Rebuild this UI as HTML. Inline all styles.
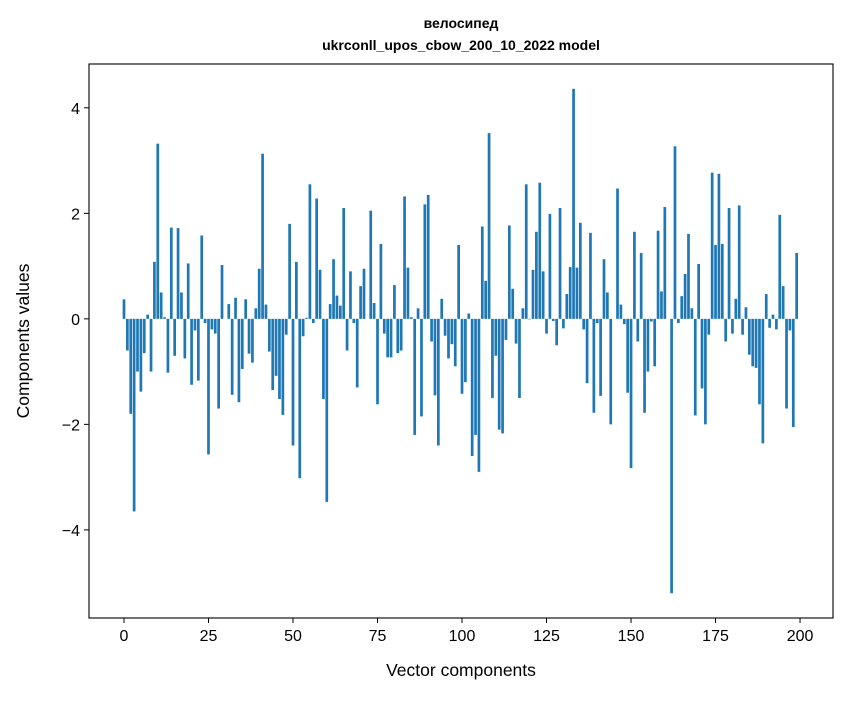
<!DOCTYPE html>
<html><head><meta charset="utf-8"><style>
body{margin:0;background:#fff;font-family:"Liberation Sans","DejaVu Sans",sans-serif}
text{font-family:"Liberation Sans","DejaVu Sans",sans-serif}
</style></head><body>
<svg id="chart" width="847" height="696" xmlns="http://www.w3.org/2000/svg">
<rect width="847" height="696" fill="#fff"/>
<text x="461" y="28" text-anchor="middle" font-size="14" font-weight="bold">велосипед</text>
<text x="461" y="50" text-anchor="middle" font-size="14" font-weight="bold">ukrconll_upos_cbow_200_10_2022 model</text>
<g id="bars"></g>
<g id="axes"></g>
<text x="461" y="676" text-anchor="middle" font-size="17.5">Vector components</text>
<text transform="translate(29,341) rotate(-90)" text-anchor="middle" font-size="17.5">Components values</text>
</svg>
<script>
const values=[0.37,-0.6,-1.8,-3.65,-1.0,-1.38,-0.65,0.08,-1.0,1.08,3.32,0.5,0.03,-1.02,1.73,-0.7,1.72,0.5,-0.75,1.05,-1.25,-0.22,-1.17,1.58,-0.08,-2.57,-0.2,-0.28,-1.7,1.02,0,0.28,-1.44,0.4,-1.58,-0.95,0.37,-0.66,-0.83,0.2,0.95,3.13,0.27,-0.62,-1.35,-1.08,-1.52,-1.82,-0.3,1.8,-2.4,1.08,-3.02,-0.33,0.02,2.55,-0.08,2.28,0.93,-1.52,-3.47,0.28,1.13,0.44,0.25,2.1,-0.6,0.9,-0.08,-1.3,0.62,0.95,0,2.05,0.3,-1.62,1.42,-0.28,-0.73,-0.73,0.64,-0.65,-0.6,2.32,0.97,0.03,-2.2,0.2,-1.85,2.17,2.35,-0.43,-1.45,-2.4,0.38,-0.32,-0.75,-0.48,-0.9,1.4,-1.42,-1.2,0.1,-2.6,-2.2,-2.9,1.75,0.72,3.52,-1.5,-0.7,-2.1,-2.17,-0.4,1.77,0.57,-0.47,-1.5,0.2,2.55,-0.01,0.93,1.65,2.58,0.9,-0.28,1.99,-0.04,-0.5,2.1,-0.18,0.47,0.98,4.36,0.97,1.82,-0.2,-1.22,1.63,-1.78,-0.08,-1.46,1.13,0.5,-2.0,0.0,2.47,0.27,-0.1,-1.4,-2.83,1.65,-0.43,1.25,-1.78,-1.0,-0.05,-0.9,1.67,0.52,2.12,0.0,-5.2,3.27,-0.08,0.43,0.85,1.61,0.2,-1.83,1.04,-1.32,-2.0,-0.3,2.77,1.4,2.75,1.42,-0.43,2.1,-0.28,0.38,2.15,-0.3,0.22,-0.68,-0.9,-0.93,-1.62,-2.36,0.47,-0.17,0.08,-0.2,1.97,0.62,-1.7,-0.22,-2.05,1.25];
const xTicks=[0,25,50,75,100,125,150,175,200];
const yTicks=[-4,-2,0,2,4];
const L=89,R=833,T=64,B=618;
const xMin=-10.35,xMax=209.75,yMin=-5.67,yMax=4.83;
const xs=v=>L+(v-xMin)/(xMax-xMin)*(R-L);
const ys=v=>T+(yMax-v)/(yMax-yMin)*(B-T);
const NS="http://www.w3.org/2000/svg";
const bars=document.getElementById('bars');
values.forEach((v,i)=>{
  const r=document.createElementNS(NS,'rect');
  const x0=xs(i-0.4),x1=xs(i+0.4);
  const y0=ys(Math.max(v,0)),y1=ys(Math.min(v,0));
  r.setAttribute('x',x0);r.setAttribute('width',x1-x0);
  r.setAttribute('y',y0);r.setAttribute('height',Math.max(y1-y0,0));
  r.setAttribute('fill','#1f77b4');
  
  
  bars.appendChild(r);
});
const ax=document.getElementById('axes');
const frame=document.createElementNS(NS,'rect');
frame.setAttribute('x',L);frame.setAttribute('y',T);frame.setAttribute('width',R-L);frame.setAttribute('height',B-T);
frame.setAttribute('fill','none');frame.setAttribute('stroke','#000');frame.setAttribute('stroke-width','1.1');


ax.appendChild(frame);
xTicks.forEach(t=>{
  const x=xs(t);
  const l=document.createElementNS(NS,'line');
  l.setAttribute('x1',x);l.setAttribute('x2',x);l.setAttribute('y1',B);l.setAttribute('y2',B+5);l.setAttribute('stroke','#000');
  
  
  ax.appendChild(l);
  const tx=document.createElementNS(NS,'text');
  tx.setAttribute('x',x);tx.setAttribute('y',B+23);tx.setAttribute('text-anchor','middle');tx.setAttribute('font-size','16');
  tx.textContent=t;
  
  
  ax.appendChild(tx);
});
yTicks.forEach(t=>{
  const y=ys(t);
  const l=document.createElementNS(NS,'line');
  l.setAttribute('x1',L-5);l.setAttribute('x2',L);l.setAttribute('y1',y);l.setAttribute('y2',y);l.setAttribute('stroke','#000');
  
  
  ax.appendChild(l);
  const tx=document.createElementNS(NS,'text');
  tx.setAttribute('x',L-9);tx.setAttribute('y',y+6);tx.setAttribute('text-anchor','end');tx.setAttribute('font-size','16');
  tx.textContent=t<0?'\u2212'+Math.abs(t):String(t);
  
  
  ax.appendChild(tx);
});
</script>
</body></html>
